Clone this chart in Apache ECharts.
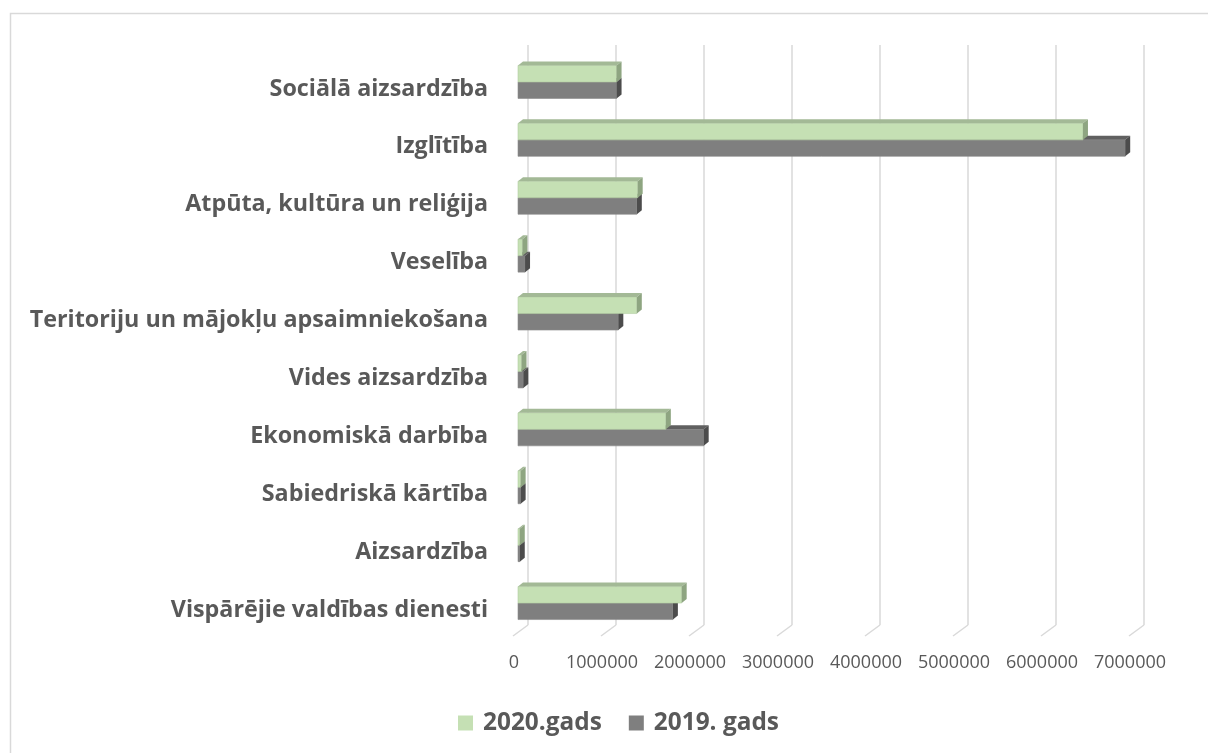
<!DOCTYPE html>
<html>
<head>
<meta charset="utf-8">
<script src="https://cdn.jsdelivr.net/npm/echarts@6/dist/echarts.min.js"></script>
<style>
html,body{margin:0;padding:0;background:#fff;}
#chart{width:1208px;height:753px;}
</style>
</head>
<body>
<div id="chart"></div>
<script>
// ---- data (bottom to top, as on the category axis) ----
const categories = [
  'Vispārējie valdības dienesti',
  'Aizsardzība',
  'Sabiedriskā kārtība',
  'Ekonomiskā darbība',
  'Vides aizsardzība',
  'Teritoriju un mājokļu apsaimniekošana',
  'Veselība',
  'Atpūta, kultūra un reliģija',
  'Izglītība',
  'Sociālā aizsardzība'
];
const values2020 = [1860000, 20000, 30000, 1680000, 40000, 1350000, 50000, 1360000, 6420000, 1120000];
const values2019 = [1760000, 20000, 30000, 2110000, 60000, 1140000, 80000, 1350000, 6900000, 1120000];
const seriesNames = ['2020.gads', '2019. gads'];
const xTicks = [0, 1000000, 2000000, 3000000, 4000000, 5000000, 6000000, 7000000];

// ---- font sizing helpers ----
const FONT = '"Open Sans", "Noto Sans", sans-serif';
const cv = document.createElement('canvas').getContext('2d');
function fitSize(text, weight, target) {
  cv.font = weight + ' 100px ' + FONT;
  const w = cv.measureText(text).width;
  return Math.round(100 * target / w * 10) / 10;
}
const catSize = fitSize('Teritoriju un mājokļu apsaimniekošana', 'bold', 458);
const tickSize = fitSize('1000000', 'normal', 72);
const legSize = fitSize('2019. gads', 'bold', 125);

const TXT = '#595959';
const DX = 5, DY = -4;

function barRenderer(isTop, cols) {
  return function (params, api) {
    const v = api.value(0), cat = api.value(1);
    const p0 = api.coord([0, cat]);
    const p1 = api.coord([v, cat]);
    const band = api.size([0, 1])[1];
    const h = band * 0.285;
    const yc = p0[1];
    const y = isTop ? yc - h : yc;
    const x0 = p0[0], x1 = p1[0];
    return {
      type: 'group',
      children: [
        { type: 'rect', shape: { x: x0, y: y, width: x1 - x0, height: h },
          style: { fill: cols.front, stroke: cols.edge, lineWidth: 0.6 } },
        { type: 'polygon', shape: { points: [[x0, y], [x1, y], [x1 + DX, y + DY], [x0 + DX, y + DY]] },
          style: { fill: cols.top } },
        { type: 'polygon', shape: { points: [[x1, y], [x1 + DX, y + DY], [x1 + DX, y + h + DY], [x1, y + h]] },
          style: { fill: cols.side } }
      ]
    };
  };
}

const green = { front: '#c5e0b4', top: '#a3b996', side: '#8ea581', edge: '#b3cca3' };
const gray = { front: '#7f7f7f', top: '#606060', side: '#4c4c4c', edge: '#8a8a8a' };

const chart = echarts.init(document.getElementById('chart'), null, { renderer: 'canvas' });
chart.setOption({
  backgroundColor: '#ffffff',
  animation: false,
  graphic: [{
    type: 'rect', left: 8, top: 11, z: -10, silent: true,
    shape: { x: 0, y: 0, width: 1400, height: 900 },
    style: { fill: 'none', stroke: '#d9d9d9', lineWidth: 1.5 }
  }],
  legend: {
    data: seriesNames,
    left: 458, top: 711, padding: 0,
    itemWidth: 15, itemHeight: 15, itemGap: 27,
    icon: 'rect',
    textStyle: { color: TXT, fontWeight: 'bold', fontSize: legSize, fontFamily: FONT, padding: [0, 0, 0, 5] }
  },
  grid: [
    { left: 518, right: 74, top: 53, bottom: 121, containLabel: false },
    { left: 528, right: 64, top: 45, bottom: 128, containLabel: false }
  ],
  xAxis: [
    { type: 'value', gridIndex: 0, min: 0, max: 7000000, interval: 1000000,
      axisLine: { show: false }, axisTick: { show: false }, splitLine: { show: false },
      axisLabel: { color: TXT, fontSize: tickSize, fontFamily: FONT, margin: 22, padding: [0, 8, 0, 0],
                   formatter: function (v) { return String(v); } } },
    { type: 'value', gridIndex: 1, min: 0, max: 7000000, interval: 1000000,
      axisLine: { show: false }, axisTick: { show: false }, axisLabel: { show: false },
      splitLine: { show: true, lineStyle: { color: '#d9d9d9', width: 1.5 } } }
  ],
  yAxis: [
    { type: 'category', gridIndex: 0, data: categories,
      axisLine: { show: false }, axisTick: { show: false }, splitLine: { show: false },
      axisLabel: { margin: 30,
        formatter: function (v) { return '{c|' + v + '}'; },
        rich: { c: { color: TXT, fontWeight: 'bold', fontSize: catSize, fontFamily: FONT, padding: [14, 0, 0, 0] } } } },
    { type: 'value', gridIndex: 1, min: 0, max: 1, show: false }
  ],
  series: [
    { type: 'custom', name: 'floor', xAxisIndex: 1, yAxisIndex: 1, clip: false, silent: true, z: 1,
      data: xTicks.map(v => [v, 0]),
      renderItem: function (params, api) {
        const p = api.coord([api.value(0), 0]);
        return { type: 'line', shape: { x1: p[0], y1: p[1], x2: p[0] - 15, y2: p[1] + 11 },
                 style: { stroke: '#d9d9d9', lineWidth: 1.5 } };
      } },
    { type: 'custom', name: seriesNames[1], xAxisIndex: 0, yAxisIndex: 0, clip: false, z: 2,
      itemStyle: { color: gray.front },
      encode: { x: 0, y: 1 },
      data: values2019.map((v, i) => [v, i]),
      renderItem: barRenderer(false, gray) },
    { type: 'custom', name: seriesNames[0], xAxisIndex: 0, yAxisIndex: 0, clip: false, z: 3,
      itemStyle: { color: green.front },
      encode: { x: 0, y: 1 },
      data: values2020.map((v, i) => [v, i]),
      renderItem: barRenderer(true, green) }
  ]
});
</script>
</body>
</html>
